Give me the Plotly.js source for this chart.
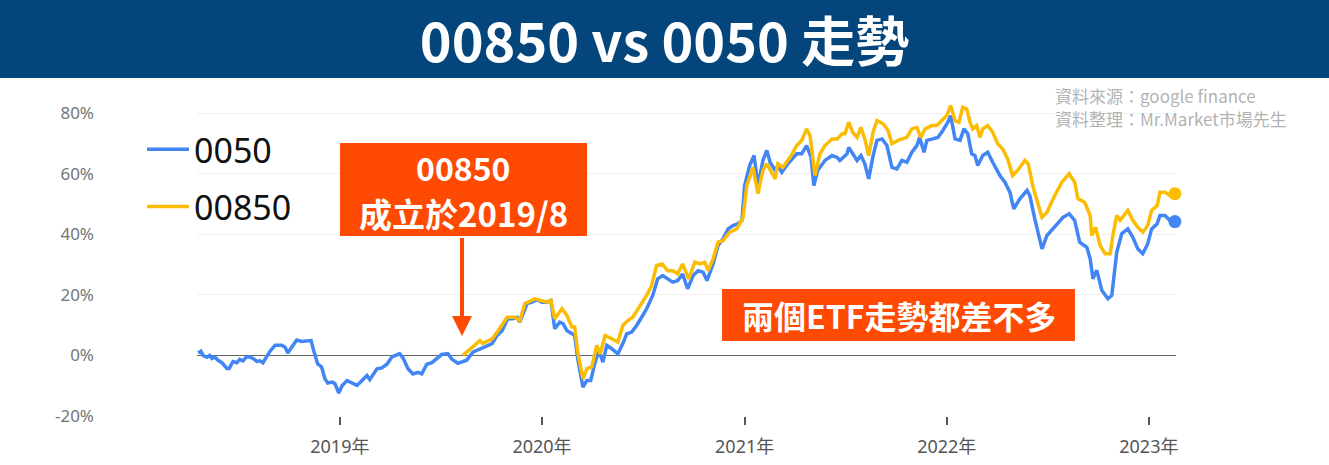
<!DOCTYPE html>
<html><head><meta charset="utf-8">
<script src="https://cdn.plot.ly/plotly-3.0.1.min.js"></script>
<style>html,body{margin:0;padding:0;background:#fff;} #chart{width:1329px;height:465px;}</style>
</head><body><div id="chart"></div>
<script>
const dates0050 = ["2018-04-20","2018-04-25","2018-04-29","2018-05-06","2018-05-11","2018-05-15","2018-05-20","2018-05-26","2018-06-02","2018-06-11","2018-06-15","2018-06-22","2018-06-29","2018-07-04","2018-07-10","2018-07-17","2018-07-22","2018-07-28","2018-08-04","2018-08-10","2018-08-15","2018-08-22","2018-08-28","2018-09-06","2018-09-18","2018-09-24","2018-09-29","2018-10-06","2018-10-15","2018-10-24","2018-11-02","2018-11-10","2018-11-15","2018-11-22","2018-11-29","2018-12-05","2018-12-10","2018-12-18","2018-12-23","2018-12-30","2019-01-05","2019-01-14","2019-01-23","2019-02-01","2019-02-10","2019-02-19","2019-02-24","2019-03-09","2019-03-18","2019-03-27","2019-04-05","2019-04-10","2019-04-19","2019-04-25","2019-05-04","2019-05-13","2019-05-22","2019-05-29","2019-06-07","2019-06-16","2019-06-25","2019-07-04","2019-07-15","2019-07-22","2019-08-02","2019-08-11","2019-08-18","2019-08-29","2019-09-11","2019-09-20","2019-10-03","2019-10-12","2019-10-21","2019-10-31","2019-11-09","2019-11-17","2019-11-22","2019-12-05","2019-12-14","2019-12-23","2020-01-01","2020-01-10","2020-01-17","2020-01-24","2020-02-02","2020-02-08","2020-02-15","2020-02-24","2020-02-29","2020-03-06","2020-03-15","2020-03-22","2020-03-29","2020-04-06","2020-04-13","2020-04-20","2020-04-27","2020-05-06","2020-05-17","2020-05-26","2020-06-02","2020-06-11","2020-06-20","2020-06-29","2020-07-08","2020-07-19","2020-07-28","2020-08-06","2020-08-15","2020-08-24","2020-09-02","2020-09-11","2020-09-20","2020-09-30","2020-10-09","2020-10-18","2020-10-25","2020-11-05","2020-11-14","2020-11-23","2020-12-02","2020-12-11","2020-12-20","2020-12-27","2021-01-01","2021-01-10","2021-01-18","2021-01-25","2021-02-03","2021-02-10","2021-02-16","2021-02-25","2021-03-02","2021-03-09","2021-03-20","2021-04-05","2021-04-14","2021-04-23","2021-05-01","2021-05-06","2021-05-13","2021-05-26","2021-06-08","2021-06-17","2021-06-22","2021-06-27","2021-07-05","2021-07-08","2021-07-15","2021-07-23","2021-07-30","2021-08-06","2021-08-13","2021-08-21","2021-08-28","2021-09-06","2021-09-15","2021-09-24","2021-10-03","2021-10-12","2021-10-21","2021-10-30","2021-11-08","2021-11-13","2021-11-21","2021-11-26","2021-12-07","2021-12-16","2021-12-25","2022-01-03","2022-01-08","2022-01-16","2022-01-25","2022-02-01","2022-02-08","2022-02-15","2022-02-21","2022-02-26","2022-03-07","2022-03-16","2022-03-25","2022-04-07","2022-04-16","2022-04-25","2022-05-02","2022-05-13","2022-05-26","2022-05-31","2022-06-09","2022-06-22","2022-07-01","2022-07-15","2022-07-30","2022-08-10","2022-08-20","2022-08-29","2022-09-11","2022-09-17","2022-09-22","2022-09-29","2022-10-08","2022-10-19","2022-10-26","2022-11-04","2022-11-13","2022-11-24","2022-12-03","2022-12-12","2022-12-21","2022-12-30","2023-01-06","2023-01-16","2023-01-21","2023-01-30","2023-02-08","2023-02-17"];
const values0050 = [0.8,1.4,0,-0.6,0,-1,-0.5,-1.6,-2.4,-4.3,-4.3,-2,-2.4,-1.3,-1.8,-0.4,-0.5,-1,-2,-1.8,-2.4,-0.2,1.4,3.4,3.4,2.7,0.8,2.7,5.1,4.6,4.9,4.9,1.4,-2.8,-3.8,-7.7,-9.1,-8.8,-9.3,-12.4,-10,-8.3,-9.1,-9.9,-8.3,-6.6,-8,-4.4,-4.1,-2.9,-0.5,-0.2,0.6,-0.8,-4.4,-6.1,-5.6,-6.1,-2.9,-2.4,-1,0.3,0.6,-1.2,-2.6,-2,-1.6,1.1,2.2,2.7,3.9,6.6,8.2,12.1,12.1,12.6,11,17.1,17.6,18.4,17.6,17.6,18.2,8.8,11,10.5,8.2,7.2,6.6,-1.6,-10.5,-8.3,-8.3,-2.2,1.6,-2.2,3.3,2.2,0.5,3.9,7.1,7.7,9.9,12.6,15.4,19.8,25.3,26.4,25.3,24.2,24.7,26.9,22,26.4,28,27.5,24.7,30.2,36.3,38.5,41.8,42.9,43.5,44.5,56.1,62.7,66,56.1,64.4,67.7,63.8,61.1,62.7,60.5,63.3,66.6,66.6,69.3,65.4,56.1,61.1,64.4,66,65.4,64.4,65.4,66.6,68.7,66.6,64.4,66,63.3,58.3,66,71,71.5,69.3,62.1,61.6,64.4,63.8,67.1,69.3,72,67.1,71,71.5,72,74.3,77,79.2,71.5,71,74.8,73.2,66.6,66,62.7,66,67.1,63.8,59.4,57.2,53.9,48.4,51.7,54.5,52.8,45.1,35.2,39.6,42.3,45.6,46.8,44.6,37.4,35.7,31.9,25.3,28.1,21.5,18.7,19.8,34.1,40.2,41.8,39,35.2,33.6,36.9,41.8,43.5,46.2,46.2,44.6,44.2];

const dates00850 = ["2019-08-11","2019-08-24","2019-09-11","2019-09-16","2019-10-03","2019-10-12","2019-10-30","2019-11-13","2019-11-22","2019-12-01","2019-12-19","2020-01-10","2020-01-17","2020-01-24","2020-02-06","2020-02-15","2020-02-24","2020-02-29","2020-03-06","2020-03-15","2020-03-22","2020-03-31","2020-04-09","2020-04-15","2020-04-24","2020-05-06","2020-05-17","2020-05-26","2020-06-04","2020-06-13","2020-06-26","2020-07-08","2020-07-17","2020-07-26","2020-08-05","2020-08-15","2020-08-24","2020-09-02","2020-09-11","2020-09-22","2020-10-03","2020-10-12","2020-10-21","2020-10-27","2020-11-05","2020-11-14","2020-11-23","2020-12-05","2020-12-18","2020-12-29","2021-01-05","2021-01-16","2021-01-25","2021-02-03","2021-02-10","2021-02-19","2021-02-25","2021-03-02","2021-03-11","2021-03-24","2021-04-05","2021-04-14","2021-04-23","2021-04-29","2021-05-08","2021-05-17","2021-05-26","2021-06-08","2021-06-17","2021-06-26","2021-07-01","2021-07-08","2021-07-15","2021-07-23","2021-07-30","2021-08-06","2021-08-13","2021-08-21","2021-08-28","2021-09-08","2021-09-17","2021-09-24","2021-10-05","2021-10-21","2021-10-30","2021-11-08","2021-11-15","2021-11-23","2021-12-05","2021-12-14","2021-12-23","2022-01-01","2022-01-08","2022-01-16","2022-01-23","2022-01-30","2022-02-06","2022-02-12","2022-02-17","2022-02-24","2022-03-02","2022-03-07","2022-03-16","2022-03-25","2022-04-03","2022-04-12","2022-04-21","2022-04-30","2022-05-09","2022-05-22","2022-05-28","2022-06-06","2022-06-22","2022-07-01","2022-07-15","2022-07-28","2022-08-10","2022-08-20","2022-08-26","2022-09-07","2022-09-17","2022-09-20","2022-09-27","2022-10-05","2022-10-14","2022-10-23","2022-10-28","2022-11-04","2022-11-10","2022-11-24","2022-12-03","2022-12-12","2022-12-21","2022-12-30","2023-01-06","2023-01-16","2023-01-21","2023-01-30","2023-02-08","2023-02-17"];
const values00850 = [0,2.2,4.9,4,5.5,7.7,12.6,12.6,11.5,17.1,18.7,17.6,18.2,12.1,15.4,13.2,9.4,9.4,0.5,-7.7,-4.4,-3.8,3.3,0.5,6.6,5.5,4.4,9.9,11.5,12.6,16.5,19.8,23.1,29.7,30.2,28,28,27,30.2,25.3,30.8,30.2,30.8,28,31.9,37.4,37.9,40.7,41.8,45.5,56.1,62.1,53.4,61.1,63.3,60,58.3,63.3,62.1,65.4,69.3,71,74.8,72.6,59.4,66.6,69.3,71.5,71.5,73.2,73.2,77,73.7,72,75.3,71.5,66,73.7,77.6,76.5,74.3,69.9,71,72,74.8,75.3,72,74.8,75.9,75.9,77.6,79.2,82.5,77.6,77,82,81.4,77,74.8,75.9,72,74.8,75.9,73.7,69.9,68.2,64.9,59.4,61.1,64.4,63.3,55.5,45.6,47.3,52.8,57.2,60,57.2,51.7,50.6,46.2,39.6,42.3,36.3,33.6,33.6,39.6,46.2,44.6,47.9,44.6,42.3,40.7,42.9,47.9,49.5,53.9,53.9,52.8,53.4];

const seriesNames = ["0050", "00850"];
const yTickVals = [-20, 0, 20, 40, 60, 80];
const yTickText = ["-20%", "0%", "20%", "40%", "60%", "80%"];
const titleText = "00850 vs 0050 走勢";
const noteLaunch = ["00850", "成立於2019/8"];
const noteSame = "兩個ETF走勢都差不多";
const sourceLines = ["資料來源：google finance", "資料整理：Mr.Market市場先生"];

const BLUE = "#4285F4", YELLOW = "#FBBC04", ORANGE = "#FE4A03", NAVY = "#04467B";
const CJK = "Noto Sans CJK TC";
const LAT = "Noto Sans, Noto Sans CJK TC";

const traces = [
  {x: dates0050, y: values0050, name: seriesNames[0], mode: "lines", legendgroup: "a",
   line: {color: BLUE, width: 3.5}},
  {x: dates00850, y: values00850, name: seriesNames[1], mode: "lines", legendgroup: "b",
   line: {color: YELLOW, width: 3.5}},
  {x: [dates0050[dates0050.length-1]], y: [values0050[values0050.length-1]], mode: "markers",
   type: "scatter", showlegend: false, cliponaxis: false, marker: {color: BLUE, size: 13}},
  {x: [dates00850[dates00850.length-1]], y: [values00850[values00850.length-1]], mode: "markers",
   type: "scatter", showlegend: false, cliponaxis: false, marker: {color: YELLOW, size: 13}}
];

const layout = {
  width: 1329, height: 465,
  margin: {l: 197, r: 153, t: 95, b: 49},
  paper_bgcolor: "#fff", plot_bgcolor: "#fff",
  title: {text: titleText, x: 0.5, xref: "container", xanchor: "center",
          y: 0.908, yref: "container", yanchor: "middle",
          font: {family: CJK, size: 54, color: "#fff", weight: 700}},
  xaxis: {type: "date", range: ["2018-04-18", "2023-02-19"], tickformat: "%Y年",
          tick0: "2019-01-01", dtick: "M12", showgrid: false, zeroline: false, showline: false,
          ticks: "outside", ticklen: 8, tickwidth: 2, tickcolor: "#555", ticklabelstandoff: 6,
          tickfont: {family: LAT, size: 18, color: "#555"}},
  yaxis: {range: [-20, 86], tickmode: "array", tickvals: yTickVals, ticktext: yTickText,
          showgrid: true, gridcolor: "#f0f0f0", gridwidth: 1,
          zeroline: true, zerolinecolor: "#666", zerolinewidth: 1.5,
          showline: false, ticks: "", ticklabelstandoff: 102,
          tickfont: {family: LAT, size: 17, color: "#757575"}},
  showlegend: true,
  legend: {x: -0.0562, xanchor: "left", y: 0.92, yanchor: "top", bgcolor: "rgba(0,0,0,0)",
           font: {family: LAT, size: 34, color: "#111"}, itemwidth: 42, tracegroupgap: 10,
           traceorder: "grouped"},
  shapes: [
    {type: "rect", xref: "paper", yref: "paper", x0: -0.20123, x1: 1.15629, y0: 1.05296, y1: 1.29595,
     fillcolor: NAVY, line: {width: 0}, layer: "below"},
    {type: "rect", xref: "paper", yref: "paper", x0: 0.1461, x1: 0.3984, y0: 0.5607, y1: 0.8505,
     fillcolor: ORANGE, line: {width: 0}, layer: "above"},
    {type: "rect", xref: "paper", yref: "paper", x0: 0.5363, x1: 0.8968, y0: 0.2336, y1: 0.3956,
     fillcolor: ORANGE, line: {width: 0}, layer: "above"}
  ],
  annotations: [
    {xref: "paper", yref: "paper", x: 0.2722, y: 0.7757, text: "<b>" + noteLaunch[0] + "</b>", showarrow: false,
     xanchor: "center", yanchor: "middle", font: {family: CJK, size: 32, color: "#fff"}},
    {xref: "paper", yref: "paper", x: 0.2722, y: 0.6324, text: "<b>" + noteLaunch[1] + "</b>", showarrow: false,
     xanchor: "center", yanchor: "middle", font: {family: CJK, size: 33, color: "#fff"}},
    {xref: "paper", yref: "paper", x: 0.2707, y: 0.2492, text: " ", showarrow: true,
     ax: 0, ay: -108, arrowhead: 2, arrowsize: 1, arrowwidth: 4, arrowcolor: ORANGE},
    {xref: "paper", yref: "paper", x: 0.7166, y: 0.3146, text: "<b>" + noteSame + "</b>", showarrow: false,
     xanchor: "center", yanchor: "middle", font: {family: CJK, size: 32, color: "#fff"}},
    {xref: "paper", yref: "paper", x: 0.8744, y: 0.9969, text: sourceLines[0], showarrow: false, align: "left",
     xanchor: "left", yanchor: "middle", font: {family: CJK, size: 17, color: "#b3b3b3"}},
    {xref: "paper", yref: "paper", x: 0.8744, y: 0.9253, text: sourceLines[1], showarrow: false, align: "left",
     xanchor: "left", yanchor: "middle", font: {family: CJK, size: 17, color: "#b3b3b3"}}
  ]
};

Plotly.newPlot("chart", traces, layout, {displayModeBar: false, staticPlot: true});
</script></body></html>
